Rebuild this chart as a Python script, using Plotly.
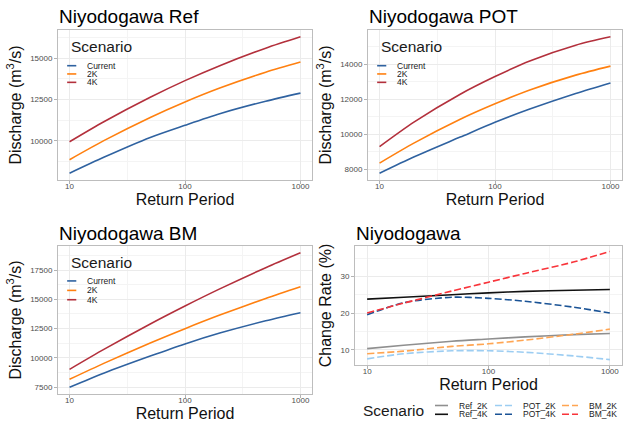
import plotly.graph_objects as go

# ---------------- data ----------------
return_periods = [10, 20, 50, 100, 200, 500, 1000]

ref_current = [8030, 9010, 10200, 10940, 11640, 12400, 12890]
ref_2k = [8850, 10020, 11415, 12355, 13200, 14160, 14775]
ref_4k = [9940, 11170, 12640, 13650, 14560, 15620, 16310]

pot_current = [7770, 8710, 9830, 10673, 11430, 12320, 12920]
pot_2k = [8346, 9500, 10850, 11731, 12520, 13370, 13885]
pot_4k = [9288, 10700, 12280, 13288, 14180, 15080, 15558]

bm_current = [7500, 8720, 10160, 11197, 12120, 13170, 13860]
bm_2k = [8180, 9560, 11280, 12500, 13654, 15078, 16076]
bm_4k = [9030, 10750, 12900, 14433, 15890, 17700, 18973]

rate_ref_2k = [10.3, 11.2, 12.3, 12.9, 13.5, 14.1, 14.4]
rate_ref_4k = [23.8, 24.3, 25.0, 25.5, 25.9, 26.2, 26.4]
rate_pot_2k = [7.5, 8.9, 9.7, 9.7, 9.3, 8.3, 7.3]
rate_pot_4k = [19.5, 22.8, 24.3, 24.0, 23.2, 21.6, 20.0]
rate_bm_2k = [8.9, 9.6, 10.9, 11.6, 12.6, 14.2, 15.6]
rate_bm_4k = [20.0, 22.7, 26.0, 28.4, 30.8, 33.9, 36.8]

scenarios = ["Current", "2K", "4K"]
rate_names = ["Ref_2K", "Ref_4K", "POT_2K", "POT_4K", "BM_2K", "BM_4K"]
panel_titles = ["Niyodogawa Ref", "Niyodogawa POT", "Niyodogawa BM", "Niyodogawa"]

x_ticks = [10, 100, 1000]
x_minor = [10 ** 1.5, 10 ** 2.5]

# ---------------- style ----------------
FONT = "Liberation Sans, Arial, sans-serif"
scen_colors = ["#2F62A0", "#FF8010", "#B3303C"]
rate_colors = ["#8F8F8F", "#111111", "#9CCDF2", "#1A5396", "#FFA552", "#F8343A"]
rate_dash = ["solid", "solid", "7px,3px", "7px,3px", "7px,3px", "7px,3px"]

W, H = 625, 423


def px_x(p):
    return p / W


def px_y(p):
    return 1 - p / H


# panel pixel boxes (left, top, right, bottom)
boxes = [(58, 30, 312, 180), (368, 30, 622, 180), (58, 246, 312, 394), (355, 246, 622, 365)]

fig = go.Figure()

panel_data = [
    [ref_current, ref_2k, ref_4k],
    [pot_current, pot_2k, pot_4k],
    [bm_current, bm_2k, bm_4k],
]
rate_data = [rate_ref_2k, rate_ref_4k, rate_pot_2k, rate_pot_4k, rate_bm_2k, rate_bm_4k]

y_dticks = [2500, 2000, 2500, 10]
y_tick0 = [0, 0, 0, 0]
y_minor = [1250, 1000, 1250, 5]


def expand(vals):
    lo, hi = min(vals), max(vals)
    pad = (hi - lo) * 0.05
    return [lo - pad, hi + pad]


for i in range(3):
    ax = "" if i == 0 else str(i + 1)
    for s, vals, col in zip(scenarios, panel_data[i], scen_colors):
        fig.add_trace(go.Scatter(
            x=return_periods, y=vals, mode="lines", name=s,
            line=dict(color=col, width=1.6, shape="spline", smoothing=0.8),
            xaxis="x" + ax, yaxis="y" + ax, showlegend=False))

for n, vals, col, d in zip(rate_names, rate_data, rate_colors, rate_dash):
    fig.add_trace(go.Scatter(
        x=return_periods, y=vals, mode="lines", name=n,
        line=dict(color=col, width=1.6, dash=d, shape="spline", smoothing=0.8),
        xaxis="x4", yaxis="y4", showlegend=False))

layout = dict(
    width=W, height=H,
    margin=dict(l=0, r=0, t=0, b=0),
    paper_bgcolor="white", plot_bgcolor="white",
    font=dict(family=FONT, color="#1A1A1A"),
    showlegend=False,
)

all_ranges = [
    expand(ref_current + ref_2k + ref_4k),
    expand(pot_current + pot_2k + pot_4k),
    expand(bm_current + bm_2k + bm_4k),
    expand(rate_ref_2k + rate_ref_4k + rate_pot_2k + rate_pot_4k + rate_bm_2k + rate_bm_4k),
]

ytitles = ["Discharge (m<sup>3</sup>/s)"] * 3 + ["Change Rate (%)"]

for i, (l, t, r, b) in enumerate(boxes):
    k = "" if i == 0 else str(i + 1)
    layout["xaxis" + k] = dict(
        type="log", range=[0.9, 3.1], domain=[px_x(l), px_x(r)],
        anchor="y" + k,
        tickmode="array", tickvals=x_ticks, ticktext=[str(v) for v in x_ticks],
        ticks="outside", ticklen=3, tickcolor="#B3B3B3", tickwidth=1,
        ticklabelstandoff=-5,
        tickfont=dict(size=8, color="#4D4D4D", family=FONT),
        showgrid=True, gridcolor="#EBEBEB", gridwidth=1,
        minor=dict(tickmode="array", tickvals=x_minor, showgrid=True,
                   gridcolor="#F4F4F4", gridwidth=0.6, ticks=""),
        showline=True, mirror=True, linecolor="#BDBDBD", linewidth=1,
        zeroline=False,
        title=dict(text="Return Period", font=dict(size=16, color="#111111", family=FONT),
                   standoff=0),
    )
    layout["yaxis" + k] = dict(
        range=all_ranges[i], domain=[px_y(b), px_y(t)],
        anchor="x" + k,
        tick0=y_tick0[i], dtick=y_dticks[i], tickformat="d",
        ticks="outside", ticklen=3, tickcolor="#B3B3B3", tickwidth=1,
        tickfont=dict(size=8, color="#4D4D4D", family=FONT),
        showgrid=True, gridcolor="#EBEBEB", gridwidth=1,
        minor=dict(tick0=0, dtick=y_minor[i], showgrid=True,
                   gridcolor="#F4F4F4", gridwidth=0.6, ticks=""),
        showline=True, mirror=True, linecolor="#BDBDBD", linewidth=1,
        zeroline=False,
        title=dict(text=ytitles[i], font=dict(size=16, color="#111111", family=FONT),
                   standoff=4),
    )

fig.update_layout(**layout)

annotations = []
shapes = []

# panel titles
for i, (l, t, r, b) in enumerate(boxes):
    annotations.append(dict(
        text=panel_titles[i], xref="paper", yref="paper",
        x=px_x(l - 1), y=px_y(t - 13), xanchor="left", yanchor="middle",
        showarrow=False, font=dict(size=19, color="#000000", family=FONT)))

# in-panel legends (panels 1-3)
leg_rows = [
    (0.889, [0.762, 0.707, 0.651]),
    (0.889, [0.762, 0.707, 0.651]),
    (0.890, [0.764, 0.700, 0.637]),
]
for i in range(3):
    k = "" if i == 0 else str(i + 1)
    ty, rows = leg_rows[i]
    annotations.append(dict(
        text="Scenario", xref="x" + k + " domain", yref="y" + k + " domain",
        x=0.045, y=ty, xanchor="left", yanchor="middle", showarrow=False,
        font=dict(size=15.5, color="#1A1A1A", family=FONT)))
    for s, col, ry in zip(scenarios, scen_colors, rows):
        shapes.append(dict(type="line", xref="x" + k + " domain", yref="y" + k + " domain",
                           x0=0.036, x1=0.072, y0=ry, y1=ry,
                           line=dict(color=col, width=1.6)))
        annotations.append(dict(
            text=s, xref="x" + k + " domain", yref="y" + k + " domain",
            x=0.108, y=ry, xanchor="left", yanchor="middle", showarrow=False,
            font=dict(size=8.5, color="#1A1A1A", family=FONT)))

# bottom legend for panel 4
annotations.append(dict(
    text="Scenario", xref="paper", yref="paper", x=px_x(361), y=px_y(410),
    xanchor="left", yanchor="middle", showarrow=False,
    font=dict(size=15.5, color="#1A1A1A", family=FONT)))
key_x = [(435, 448, 457), (495, 512, 521), (562, 578, 587)]
row_y = [405.5, 414.3]
for j, n in enumerate(rate_names):
    kx0, kx1, tx = key_x[j // 2]
    ry = row_y[j % 2]
    shapes.append(dict(type="line", xref="paper", yref="paper",
                       x0=px_x(kx0), x1=px_x(kx1), y0=px_y(ry), y1=px_y(ry),
                       line=dict(color=rate_colors[j], width=1.6, dash=rate_dash[j])))
    annotations.append(dict(
        text=n, xref="paper", yref="paper", x=px_x(tx), y=px_y(ry),
        xanchor="left", yanchor="middle", showarrow=False,
        font=dict(size=8.5, color="#1A1A1A", family=FONT)))

fig.update_layout(annotations=annotations, shapes=shapes)

fig.write_html("out.html", config={"displayModeBar": False},
               post_script="document.body.style.margin='0';")
